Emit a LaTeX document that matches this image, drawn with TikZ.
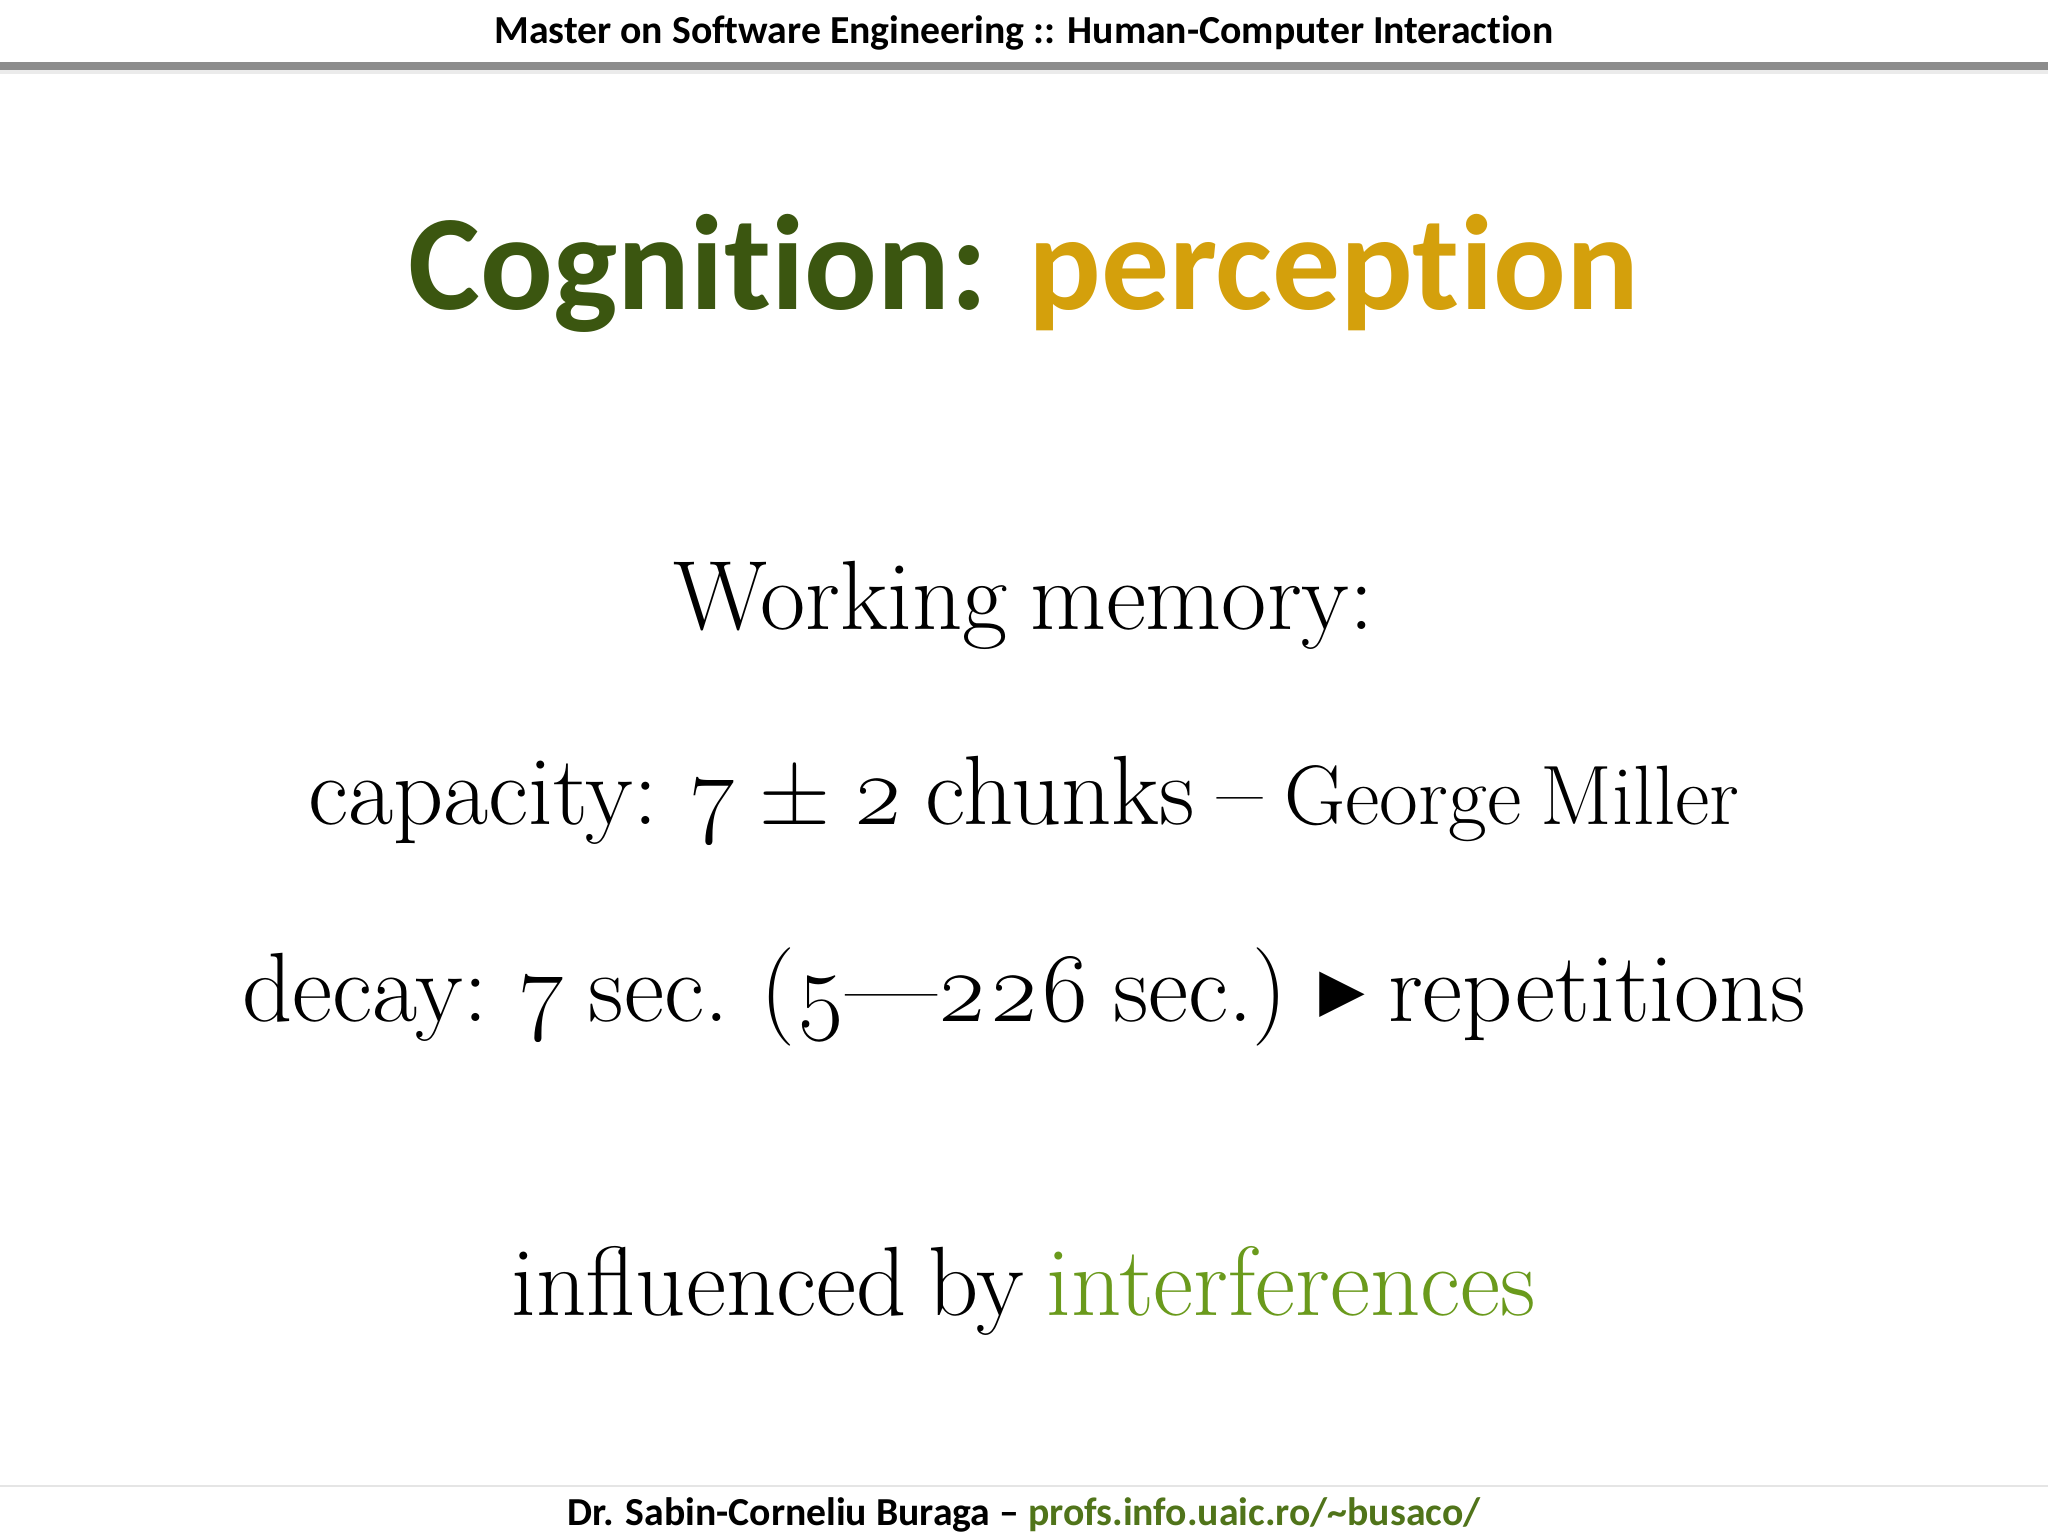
\documentclass[tikz,border=0pt]{standalone}
\usepackage{fontspec}
\setmainfont{Latin Modern Roman}[Numbers=OldStyle, WordSpace=0.75]
\newfontfamily\carl{Carlito}[Ligatures=NoCommon]
\newfontfamily\djv{DejaVu Sans}
\definecolor{tgreen}{HTML}{3B5610}
\definecolor{tgold}{HTML}{D4A00C}
\definecolor{igreen}{HTML}{6A9A1C}
\definecolor{lgreen}{HTML}{50741A}
\begin{document}
\begin{tikzpicture}[x=1cm,y=-1cm,
  hdr/.style={font=\carl\bfseries\fontsize{11.3}{13}\selectfont, anchor=base},
  body/.style={font=\fontsize{28}{32}\selectfont, anchor=base}]
\fill[white] (0,0) rectangle (20.48,15.36);
\useasboundingbox (0,0) rectangle (20.48,15.36);
\fill[black!8] (0,0.68) rectangle (20.48,0.74);
\draw[black!45, line width=2.5pt] (0,0.66) -- (20.48,0.66);
\draw[black!10, line width=0.6pt] (0,14.86) -- (20.48,14.86);
\node[hdr] (h) at (10.24,0.44) {Master on Software Engineering :: Human-Computer Interaction};
\node[font=\carl\bfseries\fontsize{38.6}{46}\selectfont, anchor=base] (t) at (10.24,3.10)
  {\textcolor{tgreen}{Cognition:} \textcolor{tgold}{perception}};
\node[body] (w) at (10.24,6.30) {Working memory:};
\node[body] (c) at (10.24,8.25) {capacity: 7 ± 2 chunks – {\fontsize{24}{28}\selectfont George Miller}};
\node[body] (d) at (10.24,10.22) {decay: 7 sec. (5—226 sec.) {\djv\fontsize{26}{30}\selectfont\raisebox{1pt}{▸}} repetitions};
\node[body] (i) at (10.24,13.15) {influenced by \textcolor{igreen}{interferences}};
\node[hdr] (f) at (10.24,15.25)
  {Dr. Sabin-Corneliu Buraga – \textcolor{lgreen}{profs.info.uaic.ro/\textasciitilde busaco/}};
\end{tikzpicture}
\end{document}
